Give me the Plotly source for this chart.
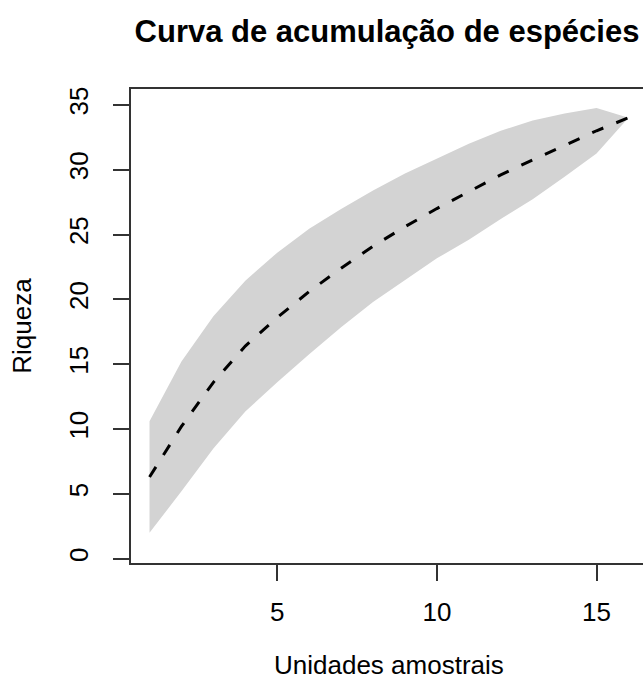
import plotly.graph_objects as go

# ---- data ----
units = list(range(1, 17))
richness = [6.3, 10.2, 13.6, 16.4, 18.6, 20.6, 22.4, 24.1, 25.6, 27.0,
            28.3, 29.6, 30.75, 31.9, 33.0, 34.0]
sd = [2.15, 2.5, 2.55, 2.52, 2.5, 2.42, 2.28, 2.15, 2.05, 1.92,
      1.85, 1.7, 1.52, 1.22, 0.88, 0.0]
x_ticks = [5, 10, 15]
y_ticks = [0, 5, 10, 15, 20, 25, 30, 35]

title_text = "Curva de acumulação de espécies"
x_title = "Unidades amostrais"
y_title = "Riqueza"

upper = [r + 2 * s for r, s in zip(richness, sd)]
lower = [r - 2 * s for r, s in zip(richness, sd)]

FONT = "Liberation Sans, Arial, sans-serif"
AX = "#333333"

fig = go.Figure()
fig.add_trace(go.Scatter(
    x=units + units[::-1], y=upper + lower[::-1],
    fill="toself", fillcolor="#D3D3D3", mode="lines",
    line=dict(width=0, color="#D3D3D3"), hoverinfo="skip", showlegend=False))
fig.add_trace(go.Scatter(
    x=units, y=richness, mode="lines",
    line=dict(color="black", width=3, dash="12px,14px"), showlegend=False))

fig.update_layout(
    width=643, height=682,
    margin=dict(l=131, r=0, t=89, b=119, autoexpand=False),
    paper_bgcolor="white", plot_bgcolor="white",
    font=dict(family=FONT, color="black", size=26),
    title=dict(text=title_text, x=387 / 643, xanchor="center",
               y=1 - 31 / 682, yanchor="middle",
               font=dict(family=FONT, size=31, weight="bold", color="black")),
    showlegend=False,
)
# x-axis title as an annotation, sitting as low as the page allows
fig.add_annotation(
    text=x_title, xref="paper", yref="paper",
    x=(388.7 - 131) / 512, y=(563 - 681) / 474,
    xanchor="center", yanchor="bottom", showarrow=False, borderpad=0,
    font=dict(family=FONT, size=26, color="black"),
)
fig.update_xaxes(
    range=[0.42, 16.455], tickvals=x_ticks, ticks="outside", ticklen=16,
    tickwidth=2, tickcolor=AX, showline=True, linecolor=AX, linewidth=2,
    mirror=True, showgrid=False, zeroline=False, automargin=False,
    tickfont=dict(family=FONT, size=26), ticklabelstandoff=9,
)
fig.update_yaxes(
    range=[-0.33, 36.22], tickvals=y_ticks, ticks="outside", ticklen=16,
    tickwidth=2, tickcolor=AX, showline=True, linecolor=AX, linewidth=2,
    mirror=False, showgrid=False, zeroline=False, tickangle=-90, automargin=False,
    tickfont=dict(family=FONT, size=26), ticklabelstandoff=15,
    title=dict(text=y_title, font=dict(family=FONT, size=26), standoff=24),
)

fig.write_html("out.html")
